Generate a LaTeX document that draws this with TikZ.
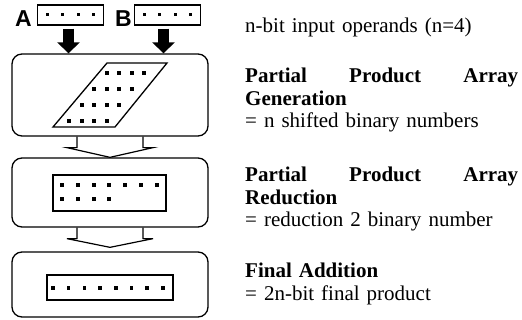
\documentclass[tikz,border=0pt]{standalone}
\usepackage{fontspec}
\setmainfont{Liberation Serif}
\newfontfamily\opfont{Liberation Sans}
\usetikzlibrary{arrows.meta}
\tikzset{
  stage/.style    = {draw, rounded corners=10pt, line width=1.3pt,
          minimum width=196pt, inner sep=0pt},
  operand/.style  = {draw, line width=1.4pt, minimum width=66pt,
          minimum height=20pt, inner sep=0pt},
  bitbox/.style   = {draw, line width=2.4pt, inner sep=0pt},
  oplabel/.style  = {font=\opfont\bfseries\fontsize{23}{23}\selectfont, inner sep=0pt},
  desc/.style     = {font=\fontsize{21}{22.5}\selectfont, text width=273pt,
          align=left, inner sep=0pt, anchor=base west},
  inarrow/.style  = {line width=11pt, -{Triangle[length=11pt, width=22pt]}, shorten <=3pt},
  hollow/.style   = {draw, line width=1.2pt, line join=miter}
}
% hollow arrow below stage #1 with its tip at #2
\newcommand{\hollowarrow}[2]{%
  \draw[hollow] ([xshift=-33pt]#1.south) -- ([xshift=-33pt,yshift=-11pt]#1.south)
    -- ([xshift=-43pt,yshift=-11pt]#1.south) -- (#2)
    -- ([xshift=43pt,yshift=-11pt]#1.south) -- ([xshift=33pt,yshift=-11pt]#1.south)
    -- ([xshift=33pt]#1.south);}
\begin{document}
\begin{tikzpicture}[x=1pt, y=1pt]
  \useasboundingbox (0,0) rectangle (522,320);
  % operands
  \node [operand] (opA) at (70.5,305) {};
  \node [operand] (opB) at (167.5,305) {};
  \node [oplabel, anchor=base] (labA) at (23.5,293) {A};
  \node [oplabel, anchor=base] (labB) at (123.5,293) {B};
  \foreach \c in {0,...,3} {
    \fill ({47.25+15.5*\c-1.5},303.5) rectangle ++(3,3);
    \fill ({144.25+15.5*\c-1.5},303.5) rectangle ++(3,3);
  }
  % stages
  \node [stage, minimum height=82pt] (gen) at (110,225) {};
  \node [stage, minimum height=69pt] (red) at (110,127.5) {};
  \node [stage, minimum height=65pt] (add) at (110,35.5) {};
  \draw [inarrow] ([xshift=-2pt]opA.south) -- ([xshift=-2pt]opA.south |- gen.north);
  \draw [inarrow] ([xshift=-4pt]opB.south) -- ([xshift=-4pt]opB.south |- gen.north);
  \hollowarrow{gen}{red.north}
  \hollowarrow{red}{[yshift=4pt]add.north}
  % partial products
  \draw [line width=1.3pt] (53,193) -- (115,193) -- (167,257) -- (107,257) -- cycle;
  \foreach \r in {0,...,3}
    \foreach \c in {0,...,3}
      \fill ({106.5+12.5*(\c-\r)-2},{247-16*\r-2}) rectangle ++(4,4);
  \node [bitbox, minimum width=113pt, minimum height=36pt] (pp) at (109.5,127) {};
  \foreach \c in {0,...,6}
    \fill ({62+15.8*\c-2},133) rectangle ++(4,4);
  \foreach \c in {0,...,3}
    \fill ({62+15.8*\c-2},119) rectangle ++(4,4);
  \node [bitbox, minimum width=126pt, minimum height=25pt] (sum) at (110,32.5) {};
  \foreach \c in {0,...,7}
    \fill ({53+15.7*\c-1.75},30.25) rectangle ++(3.5,3.5);
  % descriptions
  \node [desc] (txtIn) at (245,287) {n-bit input operands (n=4)};
  \node [desc] (txtGen) at (245,237)
    {\makebox[\linewidth]{\textbf{Partial}\hfill\textbf{Product}\hfill\textbf{Array}}\\
     \textbf{Generation}\\= n shifted binary numbers};
  \node [desc] (txtRed) at (245,138)
    {\makebox[\linewidth]{\textbf{Partial}\hfill\textbf{Product}\hfill\textbf{Array}}\\
     \textbf{Reduction}\\= reduction 2 binary number};
  \node [desc] (txtAdd) at (245,42)
    {\textbf{Final Addition}\\= 2n-bit final product};
\end{tikzpicture}
\end{document}
